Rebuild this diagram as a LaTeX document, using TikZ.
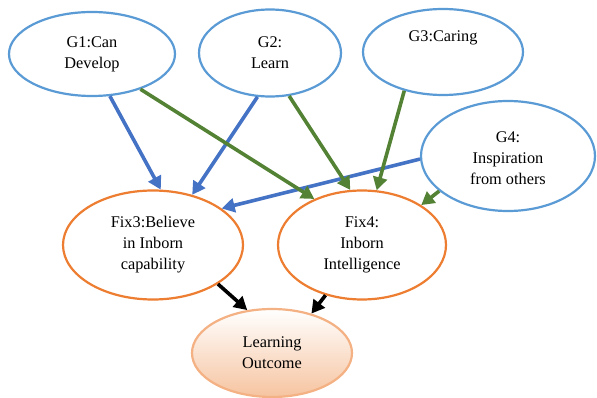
\documentclass[tikz,border=0pt]{standalone}
\usepackage{fontspec}
\setmainfont{Liberation Serif}
\usetikzlibrary{shapes.geometric,arrows.meta}
\definecolor{eblue}{RGB}{91,155,213}
\definecolor{ablue}{RGB}{68,114,196}
\definecolor{agreen}{RGB}{84,130,53}
\definecolor{eorange}{RGB}{237,125,49}
\definecolor{lorange}{RGB}{244,177,131}
\definecolor{forange}{RGB}{246,196,160}
\begin{document}
\begin{tikzpicture}[x=1pt,y=-1pt,
  ell/.style={ellipse,draw,line width=2.2pt,fill=white,inner sep=0pt,align=center,
     font=\fontsize{16.3}{21}\selectfont},
  gnode/.style={ell,draw=eblue},
  fnode/.style={ell,draw=eorange},
  arr/.style={line width=3.6pt,-{Triangle[length=13pt,width=14pt]}},
  barr/.style={arr,ablue},
  garr/.style={arr,agreen},
  karr/.style={arr,black}]
\useasboundingbox (0,0) rectangle (597,398);
\node[gnode,minimum width=166pt,minimum height=84pt] (G1) at (92,54) {G1:Can\\Develop};
\node[gnode,minimum width=142pt,minimum height=87pt] (G2) at (270,53) {G2:\\Learn};
\node[gnode,minimum width=160pt,minimum height=86pt] (G3) at (443,52) {G3:Caring\\[4pt]\strut};
\node[gnode,minimum width=174pt,minimum height=110pt] (G4) at (508,156) {\\[-6pt]G4:\\Inspiration\\from others};
\node[fnode,minimum width=180pt,minimum height=109pt] (F3) at (153,245) {Fix3:Believe\\in Inborn\\capability};
\node[fnode,minimum width=168pt,minimum height=109pt] (F4) at (362,245) {Fix4:\\Inborn\\Intelligence};
\node[ell,draw=lorange,top color=white,bottom color=forange,minimum width=160pt,minimum height=88pt] (LO) at (272,353) {Learning\\Outcome};
\draw[barr] (G1.-67.5) -- (F3.82.7);
\draw[barr] (G2.-106.8) -- (F3.52.6);
\draw[barr] (G4.182.6) -- (F3.28.1);
\draw[garr] (G1.-36.3) -- (F4.136.8);
\draw[garr] (G2.-66.2) -- (F4.102.3);
\draw[garr] (G3.-135.7) -- (F4.75.7);
\draw[garr] (G4.-153.4) -- (F4.34.2);
\draw[karr] (F3.-31.1) -- (LO.120.3);
\draw[karr] (F4.-126) -- (LO.45);
\end{tikzpicture}
\end{document}
